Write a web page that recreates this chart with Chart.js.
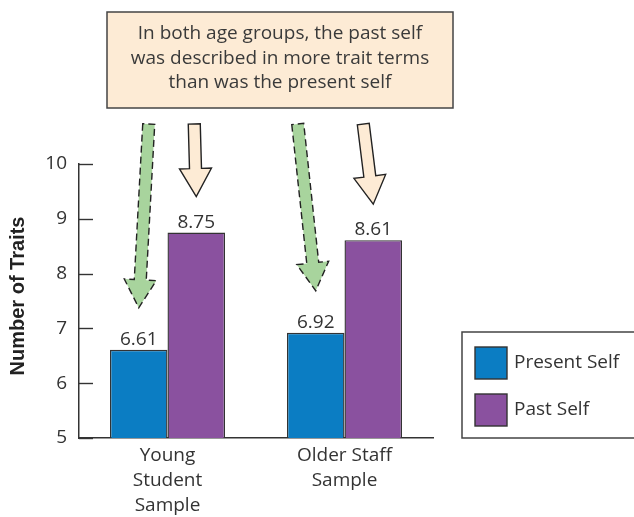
<!DOCTYPE html>
<html>
<head>
<meta charset="utf-8">
<script src="https://cdn.jsdelivr.net/npm/chart.js@4/dist/chart.umd.min.js"></script>
<style>
  html, body { margin: 0; padding: 0; background: #fff; }
  #wrap { width: 634px; height: 517px; position: relative; }
</style>
</head>
<body>
<div id="wrap"><canvas id="traitsChart"></canvas></div>
<script>
// data
const groups = [['Young', 'Student', 'Sample'], ['Older Staff', 'Sample']];
const seriesNames = ['Present Self', 'Past Self'];
const presentSelf = [6.61, 6.92];
const pastSelf = [8.75, 8.61];
const yMin = 5;
const yMax = 10;
const yTitle = 'Number of Traits';
const calloutLines = [
  'In both age groups, the past self',
  'was described in more trait terms',
  'than was the present self'
];

const BLUE = '#0b7dc3';
const PURPLE = '#8a519f';
const GREEN = '#a8d49d';
const CREAM = '#fdebd5';
const INK = '#333333';
const FONT = '"Open Sans", Lato, sans-serif';

// draws a block arrow from (x0,y0) to the tip (x1,y1)
function drawArrow(ctx, x0, y0, x1, y1, fill, dashed) {
  const dx = x1 - x0, dy = y1 - y0;
  const len = Math.sqrt(dx * dx + dy * dy);
  const ux = dx / len, uy = dy / len;
  const nx = -uy, ny = ux;
  const w = 6, hw = 16, hl = 28;
  const bx = x1 - ux * hl, by = y1 - uy * hl;
  ctx.save();
  ctx.beginPath();
  ctx.moveTo(x0 + nx * w, y0 + ny * w);
  ctx.lineTo(bx + nx * w, by + ny * w);
  ctx.lineTo(bx + nx * hw, by + ny * hw);
  ctx.lineTo(x1, y1);
  ctx.lineTo(bx - nx * hw, by - ny * hw);
  ctx.lineTo(bx - nx * w, by - ny * w);
  ctx.lineTo(x0 - nx * w, y0 - ny * w);
  ctx.closePath();
  ctx.fillStyle = fill;
  ctx.fill();
  ctx.lineWidth = 1.4;
  ctx.strokeStyle = '#222';
  if (dashed) ctx.setLineDash([7, 4]);
  ctx.stroke();
  ctx.restore();
}

const extras = {
  id: 'extras',
  afterDraw(chart) {
    const ctx = chart.ctx;
    const y = chart.scales.y;
    const area = chart.chartArea;

    // tick marks pointing into the plot
    ctx.save();
    ctx.strokeStyle = INK;
    ctx.lineWidth = 1.4;
    y.ticks.forEach(t => {
      const py = Math.round(y.getPixelForValue(t.value)) + 0.5;
      ctx.beginPath();
      ctx.moveTo(area.left, py);
      ctx.lineTo(area.left + 14, py);
      ctx.stroke();
    });
    ctx.restore();

    // value labels above the bars
    ctx.save();
    ctx.font = '19px ' + FONT;
    ctx.fillStyle = INK;
    ctx.textAlign = 'center';
    ctx.textBaseline = 'alphabetic';
    chart.data.datasets.forEach((ds, i) => {
      chart.getDatasetMeta(i).data.forEach((bar, j) => {
        ctx.fillText(ds.data[j].toFixed(2), bar.x, bar.y - 5);
      });
    });
    ctx.restore();

    // y axis title
    ctx.save();
    ctx.translate(18, 296);
    ctx.rotate(-Math.PI / 2);
    ctx.font = 'bold 20px "Liberation Sans", Arial, sans-serif';
    ctx.fillStyle = '#222';
    ctx.textAlign = 'center';
    ctx.textBaseline = 'middle';
    ctx.fillText(yTitle, 0, 0);
    ctx.restore();

    // callout box
    ctx.save();
    ctx.fillStyle = CREAM;
    ctx.fillRect(107, 12, 346, 96);
    ctx.strokeStyle = '#444';
    ctx.lineWidth = 1.5;
    ctx.strokeRect(107, 12, 346, 96);
    ctx.font = '19px ' + FONT;
    ctx.fillStyle = '#3a3a3a';
    ctx.textAlign = 'center';
    ctx.textBaseline = 'middle';
    calloutLines.forEach((line, i) => ctx.fillText(line, 280, 34 + i * 24.5));
    ctx.restore();

    // arrows from the callout to the bars
    const present = chart.getDatasetMeta(0).data;
    const past = chart.getDatasetMeta(1).data;
    const startOffsets = [[10, -2], [-18, -10]];
    present.forEach((bar, j) => {
      drawArrow(ctx, bar.x + startOffsets[j][0], 124, bar.x, bar.y - 42, GREEN, true);
    });
    past.forEach((bar, j) => {
      drawArrow(ctx, bar.x + startOffsets[j][1], 124, bar.x, bar.y - 36, CREAM, false);
    });

    // legend box
    ctx.save();
    ctx.strokeStyle = '#444';
    ctx.lineWidth = 1.5;
    ctx.beginPath();
    ctx.moveTo(640, 332);
    ctx.lineTo(462, 332);
    ctx.lineTo(462, 438);
    ctx.lineTo(640, 438);
    ctx.stroke();
    ctx.font = '19px ' + FONT;
    ctx.textAlign = 'left';
    ctx.textBaseline = 'middle';
    chart.data.datasets.forEach((ds, i) => {
      const top = 347 + i * 47;
      ctx.fillStyle = ds.backgroundColor;
      ctx.fillRect(475, top, 32, 32);
      ctx.strokeStyle = INK;
      ctx.lineWidth = 1.4;
      ctx.strokeRect(475, top, 32, 32);
      ctx.fillStyle = INK;
      ctx.fillText(ds.label, 514, top + 16);
    });
    ctx.restore();
  }
};

new Chart(document.getElementById('traitsChart'), {
  type: 'bar',
  data: {
    labels: groups,
    datasets: [{
      label: seriesNames[0],
      data: presentSelf,
      backgroundColor: BLUE,
      borderColor: INK,
      borderWidth: 1.4,
      borderSkipped: 'bottom'
    }, {
      label: seriesNames[1],
      data: pastSelf,
      backgroundColor: PURPLE,
      borderColor: INK,
      borderWidth: 1.4,
      borderSkipped: 'bottom'
    }]
  },
  options: {
    responsive: true,
    maintainAspectRatio: false,
    animation: false,
    categoryPercentage: 0.65,
    barPercentage: 1,
    layout: { padding: { top: 164, right: 201, left: 0, bottom: 0 } },
    plugins: {
      legend: { display: false },
      tooltip: { enabled: false }
    },
    scales: {
      x: {
        grid: { display: false, drawTicks: false },
        border: { color: INK, width: 1.5 },
        ticks: {
          color: INK,
          padding: 5,
          maxRotation: 0,
          font: { family: FONT, size: 19, lineHeight: 1.32 }
        },
        afterFit(scale) { scale.height = 79; }
      },
      y: {
        min: yMin,
        max: yMax,
        grid: { display: false, drawTicks: false },
        border: { color: INK, width: 1.5 },
        ticks: {
          stepSize: 1,
          color: INK,
          padding: 12,
          font: { family: FONT, size: 19 }
        },
        afterFit(scale) { scale.width = 79; }
      }
    }
  },
  plugins: [extras]
});
</script>
</body>
</html>
